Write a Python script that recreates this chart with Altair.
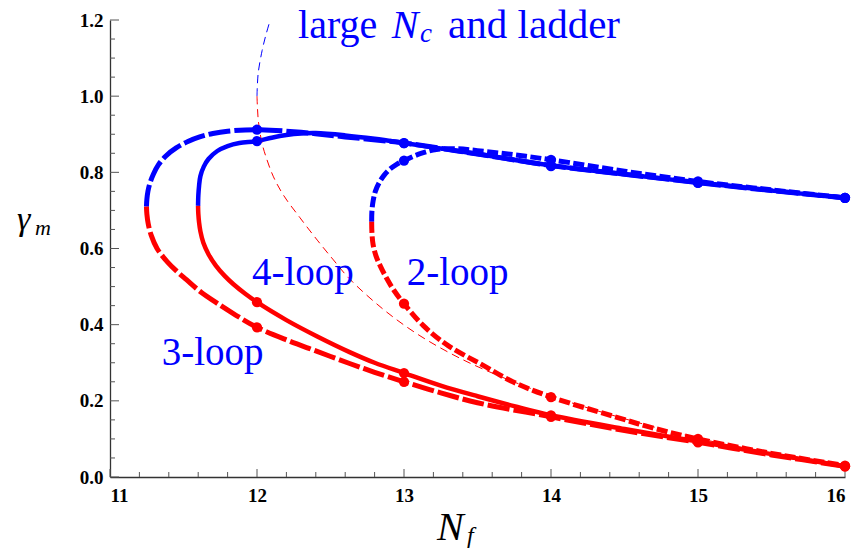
import altair as alt
import pandas as pd

# ---------------- data ----------------
# 3-loop curve (upper branch blue, lower branch red), both start at the turning point
L3_UP_NF = [11.248, 11.251, 11.258, 11.272, 11.295, 11.33, 11.38, 11.45, 11.53, 11.61, 11.70, 11.80, 12.0,
            12.3, 12.6, 13.0, 13.5, 14.0, 14.5, 15.0, 15.5, 16.0]
L3_UP_G = [0.710, 0.730, 0.750, 0.772, 0.795, 0.820, 0.843, 0.864, 0.881, 0.893, 0.902, 0.908, 0.912,
           0.905, 0.893, 0.877, 0.848, 0.818, 0.795, 0.773, 0.752, 0.733]
L3_LO_NF = [11.248, 11.251, 11.26, 11.28, 11.32, 11.39, 11.46, 11.52, 11.62, 11.73, 11.86, 12.0, 12.2, 12.4,
            12.63, 12.8, 13.0, 13.25, 13.5, 14.0, 14.5, 15.0, 15.5, 16.0]
L3_LO_G = [0.710, 0.690, 0.665, 0.635, 0.600, 0.565, 0.538, 0.518, 0.485, 0.456, 0.424, 0.393, 0.360, 0.331,
           0.298, 0.275, 0.250, 0.221, 0.195, 0.158, 0.122, 0.091, 0.058, 0.028]

# 4-loop curve
L4_UP_NF = [11.599, 11.601, 11.606, 11.615, 11.638, 11.67, 11.73, 11.80, 11.88, 12.0, 12.1, 12.2, 12.3, 12.4,
            12.6, 12.8, 13.0, 13.5, 14.0, 14.5, 15.0, 15.5, 16.0]
L4_UP_G = [0.712, 0.740, 0.765, 0.790, 0.815, 0.835, 0.856, 0.869, 0.877, 0.882, 0.891, 0.898, 0.902, 0.903,
           0.897, 0.888, 0.877, 0.848, 0.818, 0.795, 0.773, 0.752, 0.733]
L4_LO_NF = [11.599, 11.601, 11.606, 11.615, 11.635, 11.67, 11.72, 11.78, 11.84, 11.92, 12.0, 12.2, 12.41,
            12.63, 12.8, 13.0, 13.25, 13.5, 13.75, 14.0, 14.5, 15.0, 15.5, 16.0]
L4_LO_G = [0.712, 0.690, 0.668, 0.645, 0.615, 0.585, 0.555, 0.528, 0.506, 0.481, 0.459, 0.412, 0.369,
           0.328, 0.300, 0.273, 0.240, 0.212, 0.186, 0.162, 0.126, 0.093, 0.060, 0.028]

# 2-loop curve
L2_UP_NF = [12.78, 12.782, 12.79, 12.805, 12.83, 12.86, 12.90, 12.95, 13.0, 13.11, 13.22, 13.35, 13.5,
            13.75, 14.0, 14.5, 15.0, 15.5, 16.0]
L2_UP_G = [0.670, 0.700, 0.725, 0.750, 0.772, 0.790, 0.807, 0.821, 0.831, 0.849, 0.860, 0.862, 0.857,
           0.846, 0.833, 0.803, 0.776, 0.754, 0.733]
L2_LO_NF = [12.78, 12.782, 12.79, 12.81, 12.84, 12.88, 12.93, 13.0, 13.13, 13.3, 13.53, 13.74, 14.0,
            14.42, 14.7, 15.0, 15.5, 16.0]
L2_LO_G = [0.670, 0.640, 0.610, 0.580, 0.553, 0.523, 0.491, 0.455, 0.398, 0.345, 0.295, 0.250, 0.210,
           0.160, 0.128, 0.100, 0.062, 0.030]

# large-Nc ladder curve (thin dashed)
LAD_UP_NF = [12.0, 12.008, 12.035, 12.06, 12.09]
LAD_UP_G = [1.0, 1.06, 1.12, 1.16, 1.20]
LAD_LO_NF = [12.0, 12.003, 12.008, 12.018, 12.035, 12.06, 12.11, 12.18, 12.29, 12.41, 12.52, 12.63, 12.86,
             13.08, 13.30, 13.54, 14.0, 14.5, 15.0, 15.5, 16.0]
LAD_LO_G = [1.0, 0.97, 0.94, 0.91, 0.875, 0.842, 0.790, 0.740, 0.682, 0.622, 0.570, 0.520, 0.440,
            0.378, 0.328, 0.283, 0.213, 0.153, 0.102, 0.062, 0.030]

# markers at integer Nf
M_UP_NF = [12, 13, 14, 15, 16, 12, 13, 14, 15, 16, 13, 14, 15, 16]
M_UP_G = [0.912, 0.877, 0.818, 0.773, 0.733, 0.882, 0.877, 0.816, 0.772, 0.733, 0.831, 0.833, 0.776, 0.733]
M_LO_NF = [12, 13, 14, 15, 16, 12, 13, 14, 15, 16, 13, 14, 15, 16]
M_LO_G = [0.393, 0.250, 0.158, 0.091, 0.028, 0.459, 0.273, 0.162, 0.093, 0.028, 0.455, 0.210, 0.100, 0.030]

X_MAJOR = [11, 12, 13, 14, 15, 16]
X_MINOR = [11.2, 11.4, 11.6, 11.8, 12.2, 12.4, 12.6, 12.8, 13.2, 13.4, 13.6, 13.8,
           14.2, 14.4, 14.6, 14.8, 15.2, 15.4, 15.6, 15.8]
Y_MAJOR = [0.0, 0.2, 0.4, 0.6, 0.8, 1.0, 1.2]
Y_MINOR = [0.05, 0.1, 0.15, 0.25, 0.3, 0.35, 0.45, 0.5, 0.55, 0.65, 0.7, 0.75,
           0.85, 0.9, 0.95, 1.05, 1.1, 1.15]

LABELS = ["4-loop", "2-loop", "3-loop"]
LABEL_NF = [11.966, 13.018, 11.352]
LABEL_G = [0.504, 0.504, 0.294]

BLUE = "#0000FF"
RED = "#FF0000"
SERIF = "Liberation Serif"

W, H = 735, 457

# ---------------- tables ----------------
def branch_df(up_nf, up_g, lo_nf, lo_g):
    rows = []
    for i, (a, b) in enumerate(zip(up_nf, up_g)):
        rows.append({"nf": a, "g": b, "branch": "up", "i": i})
    for i, (a, b) in enumerate(zip(lo_nf, lo_g)):
        rows.append({"nf": a, "g": b, "branch": "low", "i": i})
    return pd.DataFrame(rows)

df3 = branch_df(L3_UP_NF, L3_UP_G, L3_LO_NF, L3_LO_G)
df4 = branch_df(L4_UP_NF, L4_UP_G, L4_LO_NF, L4_LO_G)
df2 = branch_df(L2_UP_NF, L2_UP_G, L2_LO_NF, L2_LO_G)
dfl = branch_df(LAD_UP_NF, LAD_UP_G, LAD_LO_NF, LAD_LO_G)
dfm = branch_df(M_UP_NF, M_UP_G, M_LO_NF, M_LO_G)

xs = alt.Scale(domain=[11, 16], nice=False, zero=False)
ys = alt.Scale(domain=[0, 1.2], nice=False, zero=True)

xaxis = alt.Axis(values=X_MAJOR, format="d", ticks=False, grid=False, domain=True,
                 domainColor="#333333", domainWidth=1.3, labelFont=SERIF, labelFontSize=19,
                 labelFontWeight="bold", labelColor="black", labelPadding=9, title=None)
yaxis = alt.Axis(values=Y_MAJOR, format=".1f", ticks=False, grid=False, domain=True,
                 domainColor="#333333", domainWidth=1.3, labelFont=SERIF, labelFontSize=19,
                 labelFontWeight="bold", labelColor="black", labelPadding=7, title=None)

X = alt.X("nf:Q", scale=xs, axis=xaxis)
Y = alt.Y("g:Q", scale=ys, axis=yaxis)
C = alt.Color("branch:N", scale=alt.Scale(domain=["up", "low"], range=[BLUE, RED]), legend=None)

# ---------------- ticks (inward) ----------------
def xticks(vals, length):
    return alt.Chart(pd.DataFrame({"nf": vals})).mark_rule(color="#555555", strokeWidth=1).encode(
        x=X, y=alt.value(H), y2=alt.value(H - length))

def yticks(vals, length):
    return alt.Chart(pd.DataFrame({"g": vals})).mark_rule(color="#555555", strokeWidth=1).encode(
        y=Y, x=alt.value(0), x2=alt.value(length))

ticks = [xticks(X_MAJOR, 8), xticks(X_MINOR, 5), yticks(Y_MAJOR, 9), yticks(Y_MINOR, 5)]

# ---------------- curves ----------------
def curve(df, width, dash=None):
    kw = dict(strokeWidth=width, interpolate="catmull-rom", clip=True)
    if dash:
        kw["strokeDash"] = dash
    return alt.Chart(df).mark_line(**kw).encode(
        x=X, y=Y, color=C, detail="branch:N", order="i:Q")

c3 = curve(df3, 5, [22, 4])
c4 = curve(df4, 4.5)
c2 = curve(df2, 5, [11, 3.5])
cl = curve(dfl, 1, [8, 5])

markers = alt.Chart(dfm).mark_circle(size=105, opacity=1).encode(x=X, y=Y, color=C)

# ---------------- texts ----------------
lab_df = pd.DataFrame({"nf": LABEL_NF, "g": LABEL_G, "t": LABELS})
labels = alt.Chart(lab_df).mark_text(font=SERIF, fontSize=39, color=BLUE, align="left",
                                     baseline="alphabetic").encode(x=X, y=Y, text="t:N")

def label(text, nf, g, size=39, style="normal"):
    return alt.Chart(pd.DataFrame({"nf": [nf], "g": [g], "t": [text]})).mark_text(
        font=SERIF, fontSize=size, fontStyle=style, color=BLUE, align="left",
        baseline="alphabetic").encode(x=X, y=Y, text="t:N")

big = [
    label("large", 12.279, 1.154, 40),
    label("N", 12.916, 1.154, 40, "italic"),
    label("c", 13.109, 1.141, 27, "italic"),
    label("and ladder", 13.30, 1.154, 41),
]

# axis titles with subscripts (positions relative to the plot area)
def title_part(text, x, y, size):
    return alt.Chart(pd.DataFrame({"t": [text]})).mark_text(
        font=SERIF, fontSize=size, fontStyle="italic", color="black", align="left",
        baseline="alphabetic").encode(x=alt.value(x), y=alt.value(y), text="t:N")

titles = [
    title_part("N", 437 - 110, 540 - 20, 40),
    title_part("f", 467 - 110, 543 - 20, 24),
    title_part("\u03b3", 17 - 110, 230 - 20, 34),
    title_part("m", 35 - 110, 235 - 20, 22),
]

chart = alt.layer(*ticks, c3, c4, c2, cl, markers, labels, *big, *titles).properties(
    width=W, height=H,
    autosize=alt.AutoSizeParams(type="none"),
    padding={"left": 110, "top": 20, "right": 20, "bottom": 73},
    background="white",
).configure_view(stroke=None)

chart.save("out.html", embed_options={"renderer": "svg", "actions": False})
